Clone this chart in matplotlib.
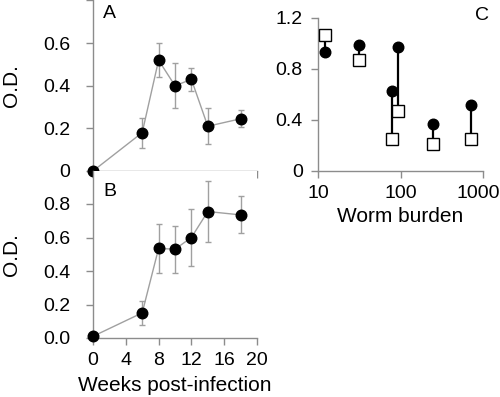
import matplotlib
matplotlib.use("Agg")
import matplotlib.pyplot as plt
from matplotlib.transforms import ScaledTranslation

plt.rcParams["font.family"] = ["Liberation Sans", "DejaVu Sans"]
plt.rcParams["font.size"] = 14

# panel A: O.D. over time (first group)
weeks = [0, 6, 8, 10, 12, 14, 18]
od_a = [0.0, 0.18, 0.52, 0.40, 0.43, 0.21, 0.245]
err_a = [0.0, 0.07, 0.08, 0.105, 0.055, 0.085, 0.04]

# panel B: O.D. over time (second group)
od_b = [0.01, 0.15, 0.535, 0.53, 0.60, 0.755, 0.735]
err_b = [0.0, 0.07, 0.145, 0.14, 0.17, 0.18, 0.11]

# panel C: worm burden vs O.D., paired values
worms = [12.2, 31, 79, 92, 247, 710]
od_circle = [0.93, 0.99, 0.63, 0.97, 0.37, 0.52]
od_square = [1.07, 0.87, 0.25, 0.47, 0.21, 0.25]

W, H = 500, 397
grey = "#8c8c8c"
line_grey = "#a0a0a0"


def px(l, b, r, t):
    return [l / W, 1 - b / H, (r - l) / W, (b - t) / H]


def style(ax, ypad):
    for s in ["top", "right"]:
        ax.spines[s].set_visible(False)
    for s in ["left", "bottom"]:
        ax.spines[s].set_color(grey)
        ax.spines[s].set_linewidth(1.0)
    ax.tick_params(axis="both", colors=grey, labelcolor="black", length=5,
                   width=1.0, labelsize=14)
    ax.tick_params(axis="y", pad=ypad)
    ax.tick_params(axis="x", pad=5)


fig = plt.figure(figsize=(W / 100, H / 100), dpi=100)

axA = fig.add_axes(px(93, 171, 257, 0.5))
axB = fig.add_axes(px(93, 338, 257, 170.5))
axC = fig.add_axes(px(318, 171, 483, 18))

for ax, od, err in [(axA, od_a, err_a), (axB, od_b, err_b)]:
    ax.errorbar(weeks, od, yerr=err, fmt="none", ecolor=line_grey,
                elinewidth=1.0, capsize=2.5, capthick=1.0, clip_on=False)
    ax.plot(weeks, od, "-", color=line_grey, lw=1.0, clip_on=False)
    ax.plot(weeks, od, "o", color="black", ms=7.6, clip_on=False, zorder=5)
    ax.set_xlim(0, 20)
    ax.set_xticks(range(0, 21, 4))
    style(ax, 11.5)

axA.set_ylim(0, 0.8)
axA.set_yticks([0, 0.2, 0.4, 0.6, 0.8])
axA.set_yticklabels(["0", "0.2", "0.4", "0.6", ""])
axA.set_xticklabels([])
axA.set_ylabel("O.D.", fontsize=15)
axA.yaxis.set_label_coords(-72.5 / 164, 0.5)
axA.text(10 / 164, 1 - 4 / 170.5, "A", transform=axA.transAxes,
         fontsize=14, va="top")

axB.set_ylim(0, 1.0)
axB.set_yticks([0, 0.2, 0.4, 0.6, 0.8])
axB.set_yticklabels(["0.0", "0.2", "0.4", "0.6", "0.8"])
axB.set_ylabel("O.D.", fontsize=15)
axB.yaxis.set_label_coords(-72.5 / 164, 0.5)
axB.set_xlabel("Weeks post-infection", fontsize=15, labelpad=5)
axB.text(10 / 164, (338 - 183) / 167.5, "B", transform=axB.transAxes,
         fontsize=14, va="top")

for x, c, s in zip(worms, od_circle, od_square):
    axC.plot([x, x], [c, s], "-", color="black", lw=1.6, zorder=2)
axC.plot(worms, od_circle, "o", color="black", ms=7.6, zorder=4, clip_on=False)
axC.plot(worms, od_square, "s", mfc="white", mec="black", mew=1.0, ms=8,
         zorder=3, clip_on=False)
axC.set_xscale("log")
axC.set_xlim(10, 1000)
axC.set_xticks([10, 100, 1000])
axC.set_xticklabels(["10", "100", "1000"])
axC.minorticks_off()
axC.set_ylim(0, 1.2)
axC.set_yticks([0, 0.4, 0.8, 1.2])
axC.set_yticklabels(["0", "0.4", "0.8", "1.2"])
style(axC, 6)
axC.set_xlabel("Worm burden", fontsize=15, labelpad=4)
axC.text((475 - 318) / 165, (171 - 7) / 153, "C", transform=axC.transAxes,
         fontsize=14, va="top")

# keep the last tick label inside the figure
last = axC.get_xticklabels()[-1]
last.set_transform(last.get_transform() + ScaledTranslation(-5 / 100, 0, fig.dpi_scale_trans))

fig.savefig("out.png", dpi=100)
